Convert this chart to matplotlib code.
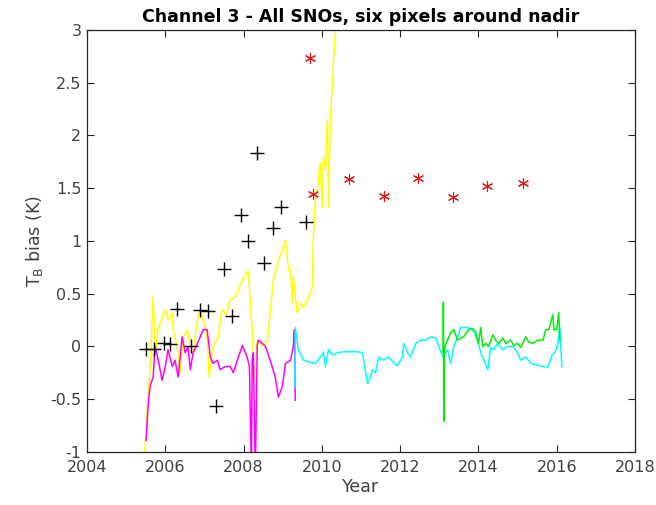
import matplotlib
matplotlib.use("Agg")
import matplotlib.pyplot as plt
import numpy as np

# --- time series (year, bias in K) ---
yellow_t = [2005.42, 2005.48, 2005.54, 2005.61, 2005.69, 2005.74, 2005.82, 2005.92, 2006.00, 2006.07,
            2006.18, 2006.20, 2006.30, 2006.38, 2006.46, 2006.56, 2006.64, 2006.71, 2006.82,
            2006.89, 2006.97, 2007.07, 2007.12, 2007.22, 2007.35, 2007.45, 2007.56, 2007.66,
            2007.79, 2007.97, 2008.12, 2008.22, 2008.27, 2008.35, 2008.48, 2008.61, 2008.68,
            2008.76, 2008.89, 2008.99, 2009.07, 2009.15, 2009.20, 2009.25, 2009.27, 2009.37,
            2009.45, 2009.53, 2009.66, 2009.76, 2009.78, 2009.84, 2009.89, 2009.96, 2010.01,
            2010.04, 2010.09, 2010.14, 2010.17, 2010.22, 2010.27, 2010.30, 2010.35, 2010.40]
yellow_v = [-1.05, -0.98, -0.60, -0.22, 0.47, -0.06, 0.16, 0.28, 0.35, 0.25,
            0.32, 0.16, 0.00, -0.25, 0.09, 0.16, 0.00, -0.06, 0.25,
            0.35, 0.25, 0.09, -0.29, 0.00, 0.09, 0.35, 0.30, 0.44,
            0.47, 0.63, 0.72, 0.16, -0.32, 0.06, 0.00, 0.06, 0.32,
            0.63, 0.82, 0.91, 1.01, 0.72, 0.72, 0.41, 0.66, 0.32,
            0.41, 0.37, 0.47, 0.56, 1.04, 1.42, 1.51, 1.74, 1.32,
            1.80, 1.67, 2.15, 1.32, 2.21, 2.46, 2.72, 3.00, 3.38]

magenta_t = [2005.51, 2005.56, 2005.61, 2005.69, 2005.74, 2005.82, 2005.92, 2006.00, 2006.07,
             2006.18, 2006.25, 2006.33, 2006.43, 2006.51, 2006.58, 2006.64, 2006.71, 2006.82,
             2006.89, 2006.97, 2007.07, 2007.15, 2007.22, 2007.33, 2007.40, 2007.53, 2007.66,
             2007.74, 2007.84, 2007.97, 2008.09, 2008.15, 2008.20, 2008.22, 2008.25, 2008.30,
             2008.35, 2008.38, 2008.48, 2008.56, 2008.68, 2008.81, 2008.89, 2008.99, 2009.07,
             2009.20, 2009.27, 2009.30, 2009.32]
magenta_v = [-0.89, -0.57, -0.38, -0.29, 0.00, -0.13, -0.32, -0.19, -0.03,
             -0.19, -0.13, -0.29, 0.09, -0.06, 0.00, -0.22, -0.06, 0.03,
             0.09, 0.16, 0.16, -0.10, -0.16, -0.13, -0.22, -0.19, -0.19,
             -0.25, -0.13, 0.01, -0.10, -0.19, -1.20, -0.13, -0.06, -1.20,
             0.01, 0.06, 0.03, 0.00, -0.13, -0.29, -0.48, -0.38, -0.16,
             -0.13, 0.00, 0.16, -0.51]

cyan_t = [2009.31, 2009.32, 2009.40, 2009.53, 2009.71, 2009.84, 2009.96, 2010.04, 2010.09,
          2010.17, 2010.27, 2010.40, 2010.55, 2010.73, 2010.91, 2011.04, 2011.12, 2011.17,
          2011.24, 2011.29, 2011.37, 2011.45, 2011.57, 2011.70, 2011.83, 2011.93, 2012.06,
          2012.09, 2012.19, 2012.27, 2012.40, 2012.52, 2012.65, 2012.78, 2012.91, 2012.96,
          2013.09, 2013.21, 2013.29, 2013.37, 2013.47, 2013.55, 2013.73, 2013.85, 2013.98,
          2014.06, 2014.14, 2014.24, 2014.31, 2014.39, 2014.49, 2014.62, 2014.75, 2014.88,
          2015.00, 2015.08, 2015.21, 2015.34, 2015.52, 2015.67, 2015.77, 2015.88, 2015.95,
          2016.03, 2016.08, 2016.13]
cyan_v = [-0.38, 0.18, -0.03, -0.13, -0.15, -0.16, -0.10, -0.06, -0.19,
          -0.03, -0.08, -0.06, -0.05, -0.05, -0.05, -0.06, -0.25, -0.35,
          -0.29, -0.22, -0.25, -0.10, -0.13, -0.10, -0.15, -0.18, -0.10,
          0.03, -0.06, -0.10, 0.03, 0.06, 0.06, 0.09, 0.08, 0.03,
          -0.10, -0.03, -0.16, 0.00, 0.09, 0.18, 0.18, 0.16, 0.06,
          -0.06, -0.13, -0.22, -0.01, -0.03, 0.03, -0.03, 0.00, 0.00,
          -0.06, -0.13, -0.10, -0.16, -0.18, -0.19, -0.20, -0.08, -0.06,
          0.03, 0.18, -0.19]

green_t = [2013.10, 2013.105, 2013.115, 2013.13, 2013.21, 2013.29, 2013.37, 2013.47, 2013.55,
           2013.62, 2013.75, 2013.85, 2013.93, 2014.00, 2014.06, 2014.11, 2014.19, 2014.26,
           2014.37, 2014.44, 2014.52, 2014.62, 2014.70, 2014.83, 2014.90, 2015.00, 2015.08,
           2015.21, 2015.29, 2015.39, 2015.52, 2015.65, 2015.72, 2015.80, 2015.90, 2015.93,
           2016.00, 2016.05, 2016.08]
green_v = [-0.05, 0.42, -0.71, -0.02, 0.06, 0.13, 0.16, 0.06, 0.08,
           0.09, 0.16, 0.17, 0.14, 0.03, 0.18, 0.00, 0.03, 0.00,
           0.11, 0.06, 0.03, 0.08, 0.03, 0.06, 0.01, 0.03, -0.01,
           0.09, 0.04, 0.03, 0.06, 0.06, 0.16, 0.16, 0.30, 0.16,
           0.16, 0.32, 0.06]

# --- individual SNO estimates ---
plus_t = [2005.51, 2005.72, 2005.97, 2006.12, 2006.30, 2006.66, 2006.89, 2007.10,
          2007.30, 2007.51, 2007.71, 2007.94, 2008.12, 2008.35, 2008.53, 2008.74,
          2008.96, 2009.60]
plus_v = [-0.02, -0.02, 0.03, 0.02, 0.36, 0.00, 0.35, 0.34,
          -0.56, 0.73, 0.29, 1.25, 1.00, 1.83, 0.79, 1.12,
          1.32, 1.18]

star_t = [2009.69, 2009.77, 2010.70, 2011.60, 2012.45, 2013.34, 2014.21, 2015.13]
star_v = [2.73, 1.45, 1.59, 1.43, 1.60, 1.42, 1.52, 1.55]

x_ticks = [2004, 2006, 2008, 2010, 2012, 2014, 2016, 2018]
y_ticks = [-1, -0.5, 0, 0.5, 1, 1.5, 2, 2.5, 3]
y_tick_labels = ["-1", "-0.5", "0", "0.5", "1", "1.5", "2", "2.5", "3"]

fig = plt.figure(figsize=(6.56, 5.05), dpi=100)
ax = fig.add_axes([0.1326, 0.105, 0.8354, 0.8356])

lw = 1.1
ax.plot(yellow_t, yellow_v, color="#ffff00", lw=lw)
ax.plot(magenta_t, magenta_v, color="#ff00ff", lw=lw)
ax.plot(cyan_t, cyan_v, color="#00ffff", lw=lw)
ax.plot(green_t, green_v, color="#00ee00", lw=lw)

ax.plot(plus_t, plus_v, linestyle="none", marker="+", color="black",
        markersize=10, markeredgewidth=1.0)
ax.plot(star_t, star_v, linestyle="none", marker=(6, 2, 0), color="#ee1111",
        markersize=8, markeredgewidth=0.8)

ax.set_xlim(2004, 2018)
ax.set_ylim(-1, 3)
ax.set_xticks(x_ticks)
ax.set_yticks(y_ticks)
ax.set_yticklabels(y_tick_labels)

text_col = "#404040"
ax.tick_params(direction="in", top=True, right=True, length=5, width=0.8,
               labelsize=11.5, colors="#262626", labelcolor=text_col)
ax.tick_params(axis="x", pad=6)
ax.tick_params(axis="y", pad=4)
for s in ax.spines.values():
    s.set_color("#262626")
    s.set_linewidth(0.9)

ax.set_xlabel("Year", fontsize=12.5, color=text_col, labelpad=2)
ax.set_ylabel(r"T$_\mathregular{B}$ bias (K)", fontsize=12.5, color=text_col, labelpad=4)
ax.set_title("Channel 3 - All SNOs, six pixels around nadir", fontsize=12.5,
             fontweight="bold", color="black", pad=6)

fig.savefig("out.png", dpi=100)
